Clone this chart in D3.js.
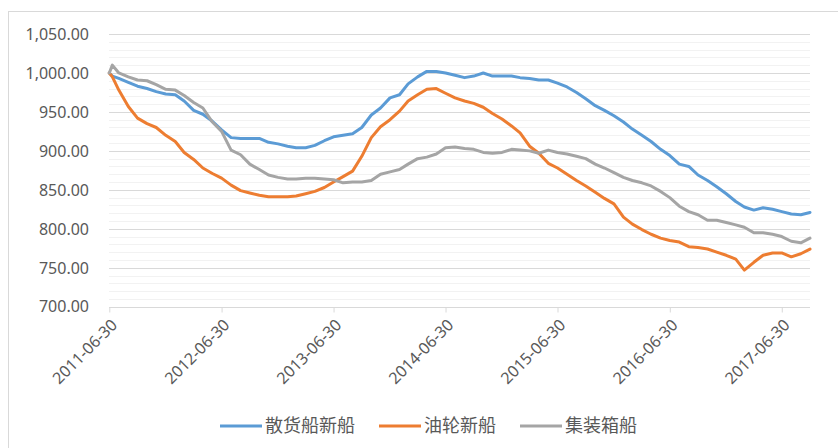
<!DOCTYPE html>
<html>
<head>
<meta charset="utf-8">
<script src="https://cdn.jsdelivr.net/npm/d3@7"></script>
<style>
  body { margin: 0; background: #fff; }
  text { font-family: "Noto Sans", "Noto Sans CJK SC", sans-serif; fill: #595959; }
</style>
</head>
<body>
<script>
// month-end dates 2011-06-30 .. 2017-09-30, plus one early reading on 2011-07-10
var monthStarts = d3.timeMonth.range(new Date(2011, 6, 1), new Date(2017, 9, 2));
var monthEnds = monthStarts.map(function(d) { return d3.timeDay.offset(d, -1); });
var dates = [monthEnds[0], new Date(2011, 6, 10)].concat(monthEnds.slice(1));

var seriesNames = ["散货船新船", "油轮新船", "集装箱船"];
var seriesColors = ["#5B9BD5", "#ED7D31", "#A5A5A5"];

var bulk = [1000, 996,
  993, 988, 983, 980, 976, 973, 972, 964, 952, 947, 938,
  927, 917, 916, 916, 916, 911, 909, 906, 904, 904, 907, 913,
  918, 920, 922, 930, 946, 955, 968, 972, 986, 995, 1002, 1002,
  1000, 997, 994, 996, 1000, 996, 996, 996, 994, 993, 991, 991,
  987, 982, 975, 967, 958, 952, 945, 937, 928, 920, 912, 902,
  894, 883, 880, 869, 862, 854, 845, 835, 828, 824, 827, 825,
  822, 819, 818, 821];

var tanker = [1000, 995,
  978, 957, 942, 935, 930, 920, 912, 898, 889, 878, 871,
  865, 856, 849, 846, 843, 841, 841, 841, 842, 845, 848, 853,
  860, 867, 874, 893, 917, 931, 940, 951, 964, 972, 979, 980,
  974, 968, 964, 961, 956, 948, 941, 932, 923, 906, 897, 884,
  878, 870, 862, 855, 847, 839, 832, 815, 806, 799, 793, 788,
  785, 783, 777, 776, 774, 770, 766, 761, 747, 757, 766, 769,
  769, 764, 768, 774];

var container = [1000, 1010,
  1000, 995, 991, 990, 985, 979, 978, 971, 962, 955, 937,
  925, 901, 895, 883, 876, 869, 866, 864, 864, 865, 865, 864,
  863, 859, 860, 860, 862, 870, 873, 876, 883, 890, 892, 896,
  904, 905, 903, 902, 898, 897, 898, 902, 901, 900, 897, 901,
  898, 896, 893, 890, 883, 878, 872, 866, 862, 859, 855, 848,
  840, 829, 822, 818, 811, 811, 808, 805, 802, 795, 795, 793,
  790, 784, 782, 788];

var yTicks = [700, 750, 800, 850, 900, 950, 1000, 1050];
var xTicks = ["2011-06-30", "2012-06-30", "2013-06-30", "2014-06-30", "2015-06-30", "2016-06-30", "2017-06-30"];

var w = 838, h = 448;
var svg = d3.select("body").append("svg")
  .attr("width", w)
  .attr("height", h);

// chart border
svg.append("rect")
  .attr("x", 8.5).attr("y", 11.5)
  .attr("width", 840).attr("height", 450)
  .attr("fill", "none")
  .attr("stroke", "#D9D9D9");

var parse = d3.timeParse("%Y-%m-%d");

var x = d3.scaleTime()
  .domain([dates[0], dates[dates.length - 1]])
  .range([109.3, 810]);

var y = d3.scaleLinear()
  .domain([700, 1050])
  .range([306.7, 34]);

// minor gridlines every 10
var minor = d3.range(710, 1050, 10).filter(function(v) { return v % 50 !== 0; });
svg.append("g").selectAll("line")
  .data(minor)
  .enter().append("line")
  .attr("x1", 109).attr("x2", 810)
  .attr("y1", function(d) { return Math.round(y(d)) + 0.5; })
  .attr("y2", function(d) { return Math.round(y(d)) + 0.5; })
  .attr("stroke", "#F2F2F2");

// major gridlines
svg.append("g").selectAll("line")
  .data(yTicks.slice(1))
  .enter().append("line")
  .attr("x1", 109).attr("x2", 810)
  .attr("y1", function(d) { return Math.round(y(d)) + 0.5; })
  .attr("y2", function(d) { return Math.round(y(d)) + 0.5; })
  .attr("stroke", "#D9D9D9");

// y axis labels
var fmt = d3.format(",.2f");
svg.append("g").selectAll("text")
  .data(yTicks)
  .enter().append("text")
  .attr("x", 89)
  .attr("y", function(d) { return y(d); })
  .attr("dy", "0.36em")
  .attr("text-anchor", "end")
  .style("font-size", "16px")
  .text(function(d) { return fmt(d); });

// x axis
var xAxis = d3.axisBottom(x)
  .tickValues(xTicks.map(parse))
  .tickSize(5)
  .tickFormat("");
var gx = svg.append("g")
  .attr("transform", "translate(0," + (Math.round(y(700)) + 0.5) + ")")
  .call(xAxis);
gx.select(".domain").attr("stroke", "#D9D9D9").attr("d", "M109,0H810");
gx.selectAll(".tick line").attr("stroke", "#D9D9D9");

svg.append("g").selectAll("text")
  .data(xTicks)
  .enter().append("text")
  .attr("transform", function(d) {
    return "translate(" + (x(parse(d)) + 9) + ",326) rotate(-45)";
  })
  .attr("text-anchor", "end")
  .style("font-size", "16px")
  .text(function(d) { return d; });

// lines
var line = d3.line()
  .x(function(d, i) { return x(dates[i]); })
  .y(function(d) { return y(d); });

var allSeries = [bulk, tanker, container];
svg.append("g").selectAll("path")
  .data(allSeries)
  .enter().append("path")
  .attr("d", line)
  .attr("fill", "none")
  .attr("stroke", function(d, i) { return seriesColors[i]; })
  .attr("stroke-width", 3)
  .attr("stroke-linejoin", "round")
  .attr("stroke-linecap", "round");

// legend
var legendX = [220, 379, 520];
var lg = svg.append("g").selectAll("g")
  .data(seriesNames)
  .enter().append("g")
  .attr("transform", function(d, i) { return "translate(" + legendX[i] + ",426)"; });
lg.append("line")
  .attr("x1", 0).attr("x2", 42)
  .attr("stroke", function(d, i) { return seriesColors[i]; })
  .attr("stroke-width", 3);
lg.append("text")
  .attr("x", 45)
  .attr("dy", "0.36em")
  .style("font-family", "'Noto Sans CJK SC', sans-serif")
  .style("font-size", "18px")
  .text(function(d) { return d; });
</script>
</body>
</html>
